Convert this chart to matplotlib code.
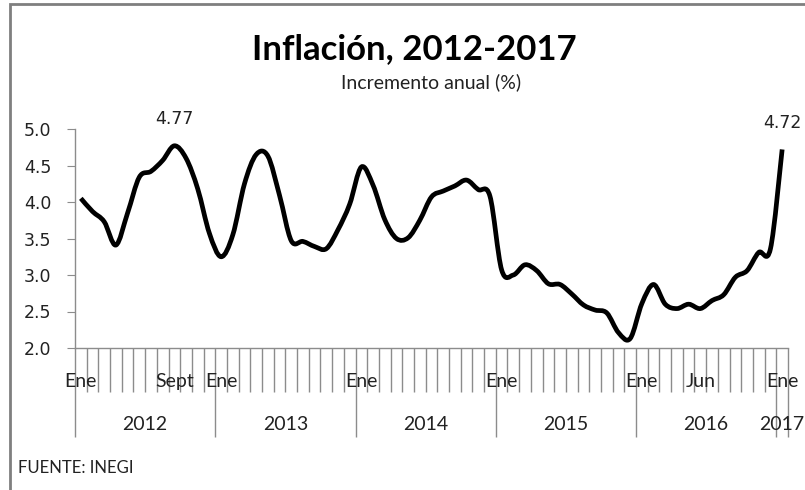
import numpy as np
import matplotlib
matplotlib.use('Agg')
import matplotlib.pyplot as plt
from matplotlib.path import Path
from matplotlib.patches import PathPatch, Rectangle
import matplotlib.transforms as mtransforms

# Inflacion anual (%), Ene 2012 - Ene 2017
INFLACION = [
    4.05, 3.87, 3.73, 3.41, 3.85, 4.34, 4.42, 4.57, 4.77, 4.60, 4.18, 3.57,  # 2012
    3.25, 3.55, 4.25, 4.65, 4.63, 4.09, 3.47, 3.46, 3.39, 3.36, 3.62, 3.97,  # 2013
    4.48, 4.23, 3.76, 3.50, 3.51, 3.75, 4.07, 4.15, 4.22, 4.30, 4.17, 4.08,  # 2014
    3.07, 3.00, 3.14, 3.06, 2.88, 2.87, 2.74, 2.59, 2.52, 2.48, 2.21, 2.13,  # 2015
    2.61, 2.87, 2.60, 2.54, 2.60, 2.54, 2.65, 2.73, 2.97, 3.06, 3.31, 3.36,  # 2016
    4.72,                                                                    # 2017
]
YEARS = ['2012', '2013', '2014', '2015', '2016', '2017']
YEAR_START = [0, 12, 24, 36, 48, 60]
MONTH_LABELS = {0: 'Ene', 8: 'Sept', 12: 'Ene', 24: 'Ene', 36: 'Ene', 48: 'Ene', 53: 'Jun', 60: 'Ene'}
ANNOTATE = [8, 60]

CALIBRI = ['Lato', 'DejaVu Sans']
GRAY = '#8c8c8c'
TXT = '#222222'

x = np.arange(len(INFLACION))
y = np.array(INFLACION)
n = len(x)

fig = plt.figure(figsize=(8.05, 4.9), dpi=100)
ax = fig.add_axes([75 / 805, 1 - 348 / 490, (788 - 75) / 805, (348 - 129) / 490])

# outer chart border
fig.patches.append(Rectangle((10 / 805, -0.1), 1.2, 1 - 4 / 490 + 0.1, transform=fig.transFigure,
                             fill=False, edgecolor='#7f7f7f', linewidth=2))

# smoothed line (Bezier through the points, like Excel)
pts = np.column_stack([x, y]).astype(float)
verts = [pts[0]]
codes = [Path.MOVETO]
for i in range(n - 1):
    p0 = pts[max(i - 1, 0)]
    p1 = pts[i]
    p2 = pts[i + 1]
    p3 = pts[min(i + 2, n - 1)]
    c1 = p1 + (p2 - p0) / 6
    c2 = p2 - (p3 - p1) / 6
    verts += [c1, c2, p2]
    codes += [Path.CURVE4] * 3
ax.add_patch(PathPatch(Path(verts, codes), fill=False, edgecolor='black', linewidth=3.4,
                       capstyle='butt', joinstyle='round'))

ax.set_xlim(-0.5, n - 0.5)
ax.set_ylim(2.0, 5.0)

for s in ['top', 'right']:
    ax.spines[s].set_visible(False)
for s in ['left', 'bottom']:
    ax.spines[s].set_color(GRAY)
    ax.spines[s].set_linewidth(1)

yt = np.arange(2.0, 5.01, 0.5)
ax.set_yticks(yt)
ax.set_yticklabels([f'{v:.1f}' for v in yt])
ax.tick_params(axis='y', length=6, color=GRAY, labelsize=12.5, pad=11, labelcolor=TXT)

major = [s - 0.5 for s in YEAR_START] + [n - 0.5]
minor = [i - 0.5 for i in range(n + 1) if (i - 0.5) not in major]
ax.set_xticks(major)
ax.set_xticks(minor, minor=True)
ax.set_xticklabels([])
ax.tick_params(axis='x', which='major', length=64, color=GRAY, width=1)
ax.tick_params(axis='x', which='minor', length=32, color=GRAY, width=1)

trans = mtransforms.blended_transform_factory(ax.transData, ax.transAxes)
for i, lab in MONTH_LABELS.items():
    ax.text(i, -39 / 219, lab, transform=trans, ha='center', va='baseline',
            fontsize=14, family=CALIBRI, color=TXT)

bounds = YEAR_START + [n]
for k, yr in enumerate(YEARS):
    cx = (bounds[k] + bounds[k + 1] - 1) / 2
    ax.text(cx, -82 / 219, yr, transform=trans, ha='center', va='baseline',
            fontsize=14, family=CALIBRI, color=TXT)

for i in ANNOTATE:
    ax.annotate(f'{INFLACION[i]:.2f}', (x[i], y[i]), xytext=(0, 15.5), textcoords='offset points',
                ha='center', va='baseline', fontsize=12.5, color=TXT, annotation_clip=False)

fig.text(414 / 805, 1 - 59 / 490, 'Inflación, 2012-2017', ha='center', va='baseline',
         fontsize=25, fontweight='bold', family=CALIBRI)
fig.text(431 / 805, 1 - 88 / 490, 'Incremento anual (%)', ha='center', va='baseline',
         fontsize=14, family=CALIBRI, color=TXT)
fig.text(18 / 805, 1 - 473 / 490, 'FUENTE: INEGI', ha='left', va='baseline',
         fontsize=12, family=CALIBRI, color=TXT)

fig.savefig('out.png', dpi=100, facecolor='white')
